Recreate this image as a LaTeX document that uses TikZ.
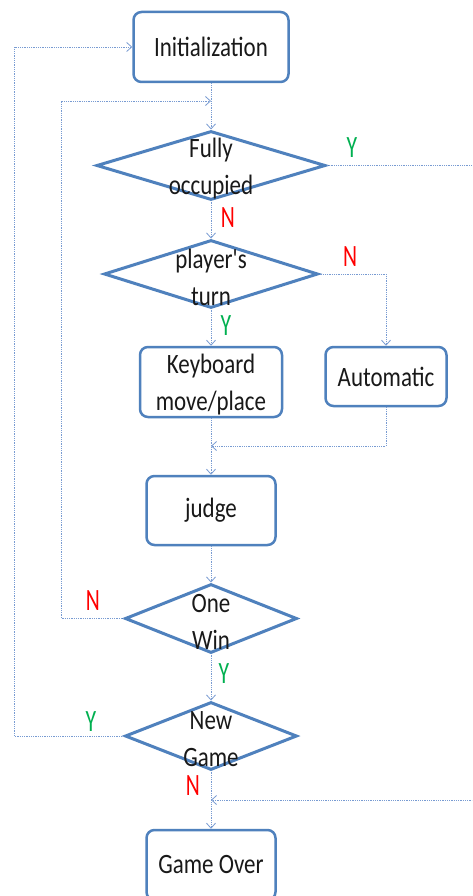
\documentclass[tikz,border=0pt]{standalone}
\usepackage{fontspec}
\newfontfamily\boxfont[FakeStretch=0.82]{Carlito}
\newfontfamily\ynfont[FakeStretch=0.7]{Carlito}
\usetikzlibrary{arrows.meta,shapes.geometric}
\definecolor{boxblue}{RGB}{79,129,189}
\definecolor{linkblue}{RGB}{120,155,210}
\definecolor{ygreen}{RGB}{0,176,80}
\definecolor{nred}{RGB}{255,0,0}
\begin{document}
\begin{tikzpicture}[x=1pt,y=-1pt,
  proc/.style={draw=boxblue, line width=2.5pt, rounded corners=8pt, fill=white, inner sep=0pt,
    font=\boxfont\fontsize{28}{37}\selectfont, text=black!90, align=center},
  dec/.style={draw=boxblue, line width=3pt, diamond, inner sep=0pt, fill=white},
  dtext/.style={inner sep=0pt, font=\boxfont\fontsize{28}{37}\selectfont, text=black!90, align=center},
  link/.style={draw=linkblue, line width=0.8pt, densely dotted, -{Straight Barb[length=5pt,width=9pt]}},
  ylab/.style={text=ygreen, font=\ynfont\fontsize{31}{31}\selectfont, inner sep=0pt},
  nlab/.style={ylab, text=nred}]
\useasboundingbox (0,0) rectangle (472,896);
\clip (0,0) rectangle (472,896);
\fill[white] (0,0) rectangle (472,896);

% process boxes
\node[proc, minimum width=155pt, minimum height=70pt] (init) at (211,47) {Initialization};
\node[proc, minimum width=142pt, minimum height=70pt] (kb) at (211,382) {};
\node[dtext] (kbt) at ([yshift=-3pt]kb.center) {Keyboard\\move/place};
\node[proc, minimum width=121pt, minimum height=59pt] (auto) at (386,376.5) {Automatic};
\node[proc, minimum width=129pt, minimum height=69pt] (judge) at (211,510.5) {judge};
\node[proc, minimum width=129pt, minimum height=70pt] (over) at (211,865) {Game Over};

% decisions
\node[dec, minimum width=229pt, minimum height=69pt] (d1) at (211,165.5) {};
\node[dtext] (d1t) at ([yshift=-3pt]d1.center) {Fully\\occupied};
\node[dec, minimum width=214pt, minimum height=68pt] (d2) at (211,274) {};
\node[dtext] (d2t) at ([yshift=-3pt]d2.center) {player's\\turn};
\node[dec, minimum width=172pt, minimum height=69pt] (d3) at (211,618.5) {};
\node[dtext] (d3t) at ([yshift=-3pt]d3.center) {One\\Win};
\node[dec, minimum width=172pt, minimum height=68pt] (d4) at (211,736) {};
\node[dtext] (d4t) at ([yshift=-3pt]d4.center) {New\\Game};

% helper coordinates
\coordinate (j1) at (211,101);
\coordinate (j2) at (211,446);
\coordinate (j3) at (211,800);
\coordinate (c1) at (14,47);
\coordinate (c2) at (61,101);
\coordinate (c3) at (476,165.5);
\coordinate (c4) at (476,800);

% connectors
\draw[link] (init.south) -- (d1.north);
\draw[link] (d1.south) -- (d2.north);
\draw[link] (d2.south) -- (kb.north);
\draw[link] (d2.east) -| (auto.north);
\draw[link] (kb.south) -- (judge.north);
\draw[link] (auto.south) |- (j2);
\draw[link] (judge.south) -- (d3.north);
\draw[link] (d3.west) -| (c2) -- (j1);
\draw[link] (d3.south) -- (d4.north);
\draw[link] (d4.west) -| (c1) -- (init.west);
\draw[link] (d4.south) -- (over.north);
\draw[link] (d1.east) -- (c3) -- (c4) -- (j3);

% labels
\node[ylab] (y1) at (352,148) {Y};
\node[nlab] (n1) at (228,218) {N};
\node[nlab] (n2) at (350,257) {N};
\node[ylab] (y2) at (226,326) {Y};
\node[nlab] (n3) at (93,601) {N};
\node[ylab] (y3) at (224,674) {Y};
\node[ylab] (y4) at (91,722) {Y};
\node[nlab] (n4) at (193,786) {N};
\end{tikzpicture}
\end{document}
